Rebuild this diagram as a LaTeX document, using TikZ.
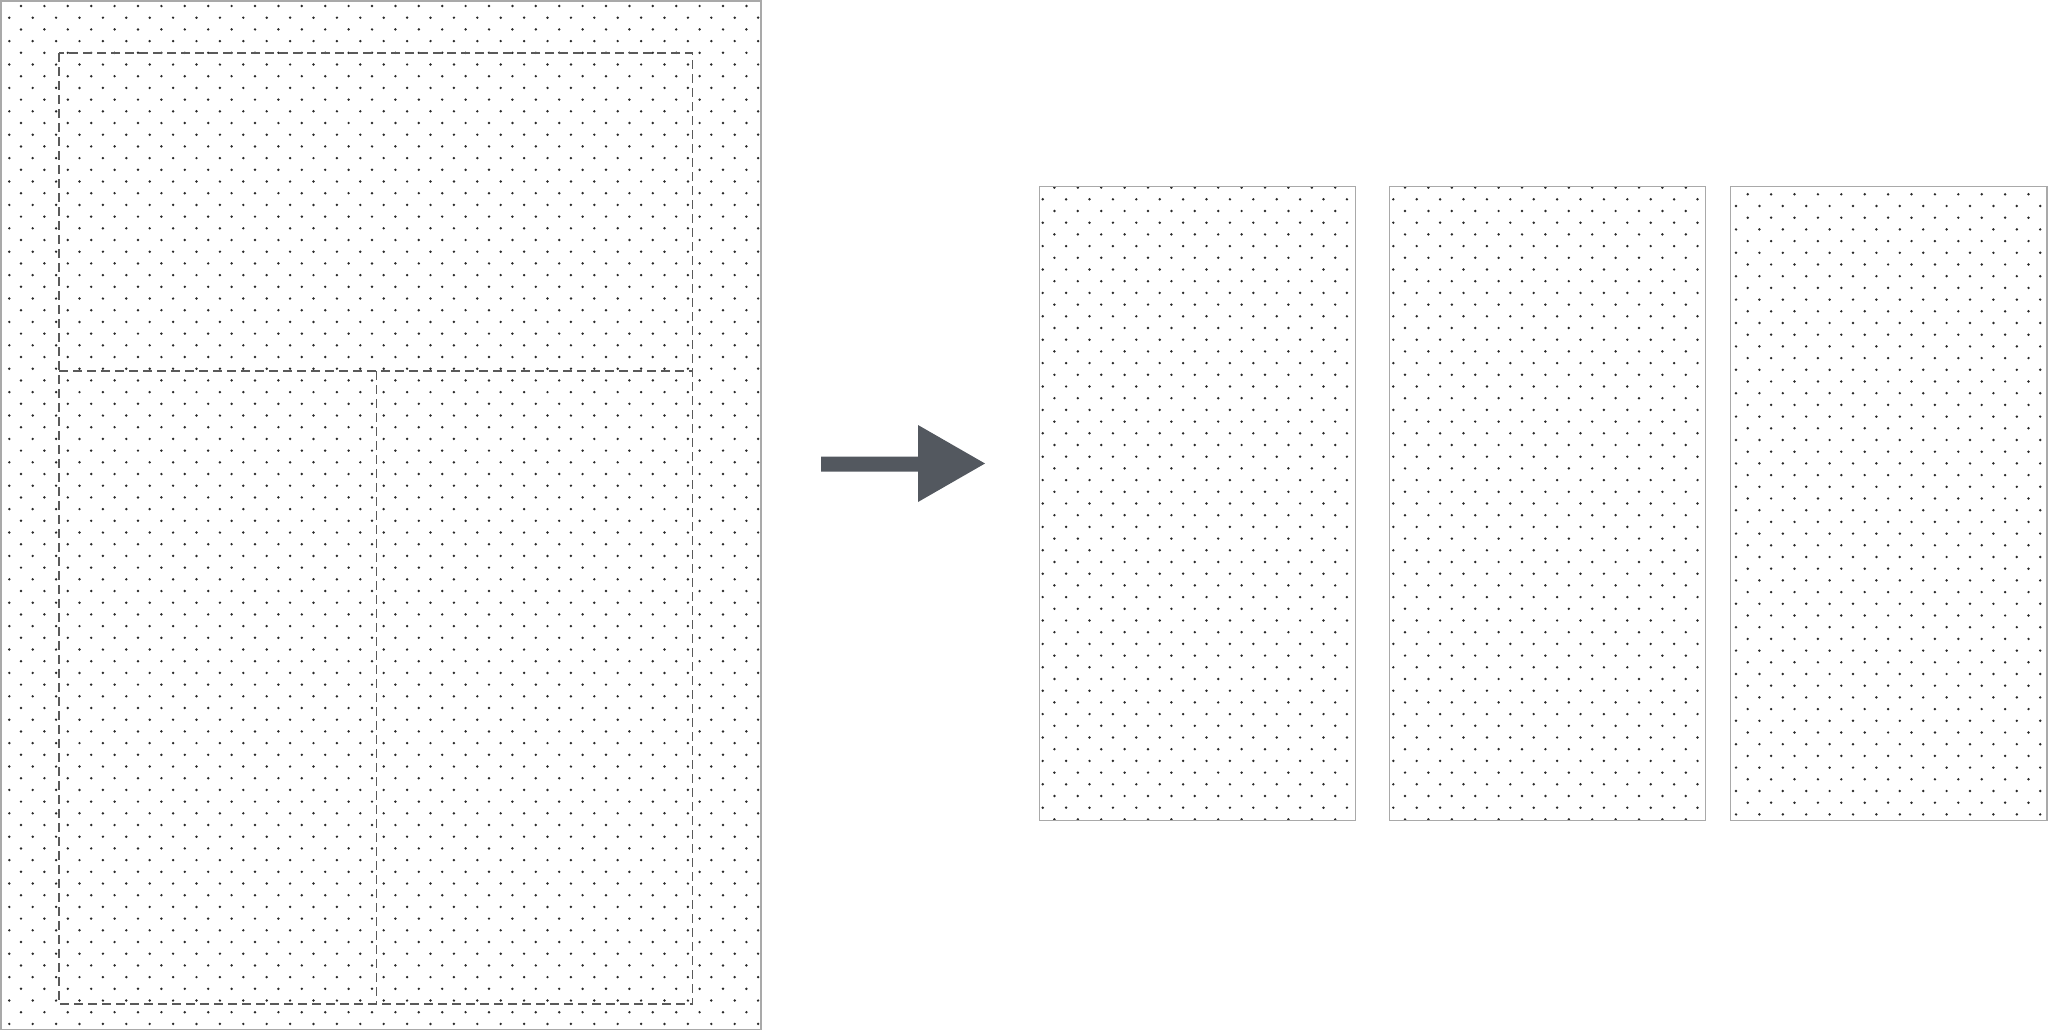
\documentclass[tikz,border=0pt]{standalone}
\definecolor{bordercol}{HTML}{A9A9A9}
\definecolor{dashcol}{HTML}{5A5A5A}
\definecolor{dotcol}{HTML}{2A2A2A}
\definecolor{arrowcol}{HTML}{53585F}
\begin{document}
\begin{tikzpicture}[x=1pt, y=-1pt,
  panel/.style={draw=bordercol, line width=1.5pt},
  cutline/.style={draw=dashcol, line width=1.5pt, dash pattern=on 9pt off 5pt}]
\pgfmathsetmacro\gap{11.7};
\useasboundingbox (0,0) rectangle (2048,1031);
\foreach \cx/\cy/\dx/\dy/\ox/\oy/\ni/\nj in {0/0/762/1030/21/6/33/88, 1038/185/1356.5/822/1042.7/199.3/15/54, 1388/185/1706/822/1393.3/199.3/15/54, 1729/185/2049/822/1747.7/194.3/15/54} {
  \begin{scope}
  \clip (\cx,\cy) rectangle (\dx,\dy);
  \foreach \j in {-1,...,\nj} {
    \pgfmathsetmacro\yy{\oy+\j*\gap}
    \pgfmathsetmacro\xs{\ox+mod(\j+2,2)*\gap-2*\gap}
    \fill[dotcol] foreach \i in {0,...,\ni} {(\xs+\i*2*\gap,\yy) circle (1.35)};
  }
  \end{scope}
}
\draw[panel] (1,1) rectangle (761,1029.5);
\foreach \lx in {1039.3,1389.3,1730.7} \draw[panel] (\lx,186.7) rectangle ++(316.3,633.8);
\draw[cutline] (59,53) rectangle (692.5,1004) (59,371) -- (692.5,371) (376.5,371) -- (376.5,1004);
\fill[arrowcol] (821,456.5) -- (918,456.5) -- (918,425) -- (985,463.5) -- (918,502) -- (918,471.5) -- (821,471.5) -- cycle;
\end{tikzpicture}
\end{document}
